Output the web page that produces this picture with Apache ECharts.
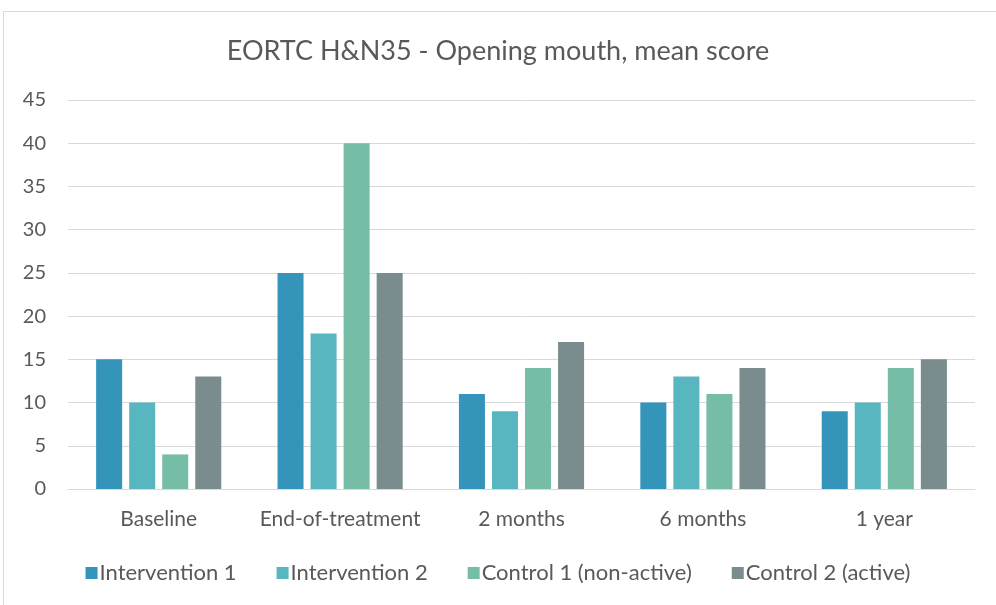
<!DOCTYPE html>
<html><head><meta charset="utf-8">
<script src="https://cdn.jsdelivr.net/npm/echarts@6/dist/echarts.min.js"></script>
<style>html,body{margin:0;padding:0;background:#fff}#c{width:996px;height:605px}
#frame{position:absolute;left:3px;top:11px;width:1000px;height:700px;border:1px solid #d9d9d9;pointer-events:none}</style>
</head><body><div id="c"></div><div id="frame"></div>
<script>
const categories = ['Baseline', 'End-of-treatment', '2 months', '6 months', '1 year'];
const seriesNames = ['Intervention 1', 'Intervention 2', 'Control 1 (non-active)', 'Control 2 (active)'];
const intervention1 = [15, 25, 11, 10, 9];
const intervention2 = [10, 18, 9, 13, 10];
const control1 = [4, 40, 14, 11, 14];
const control2 = [13, 25, 17, 14, 15];
const colors = ['#3494BA', '#58B6C0', '#75BDA7', '#7A8C8E'];
const FONT = 'Lato';
const chart = echarts.init(document.getElementById('c'));
const dataSets = [intervention1, intervention2, control1, control2];
chart.setOption({
  animation: false,
  color: colors,
  title: {text: 'EORTC H&N35 - Opening mouth, mean score', left: 'center', top: 33,
    textStyle: {fontFamily: FONT, fontSize: 27, fontWeight: 'normal', color: '#595959'}},
  legend: {bottom: 16, left: 'center', itemWidth: 12, itemHeight: 12, itemGap: 40, icon: 'rect',
    textStyle: {fontFamily: FONT, fontSize: 22, color: '#595959', padding: [0,0,0,-3]}},
  grid: {left: 68, right: 21, top: 100, bottom: 116, containLabel: false},
  xAxis: {type: 'category', data: categories,
    axisLine: {lineStyle: {color: '#d9d9d9', width: 1}}, axisTick: {show: false},
    axisLabel: {interval: 0, fontFamily: FONT, fontSize: 21, color: '#595959', margin: 20}},
  yAxis: {type: 'value', min: 0, max: 45, interval: 5,
    axisLine: {show: false}, axisTick: {show: false},
    splitLine: {lineStyle: {color: '#d9d9d9', width: 1}},
    axisLabel: {fontFamily: FONT, fontSize: 20, color: '#595959', margin: 22}},
  series: dataSets.map((d, i) => ({name: seriesNames[i], type: 'bar', data: d,
    barGap: '27%', barCategoryGap: '31%'}))
});
</script></body></html>
